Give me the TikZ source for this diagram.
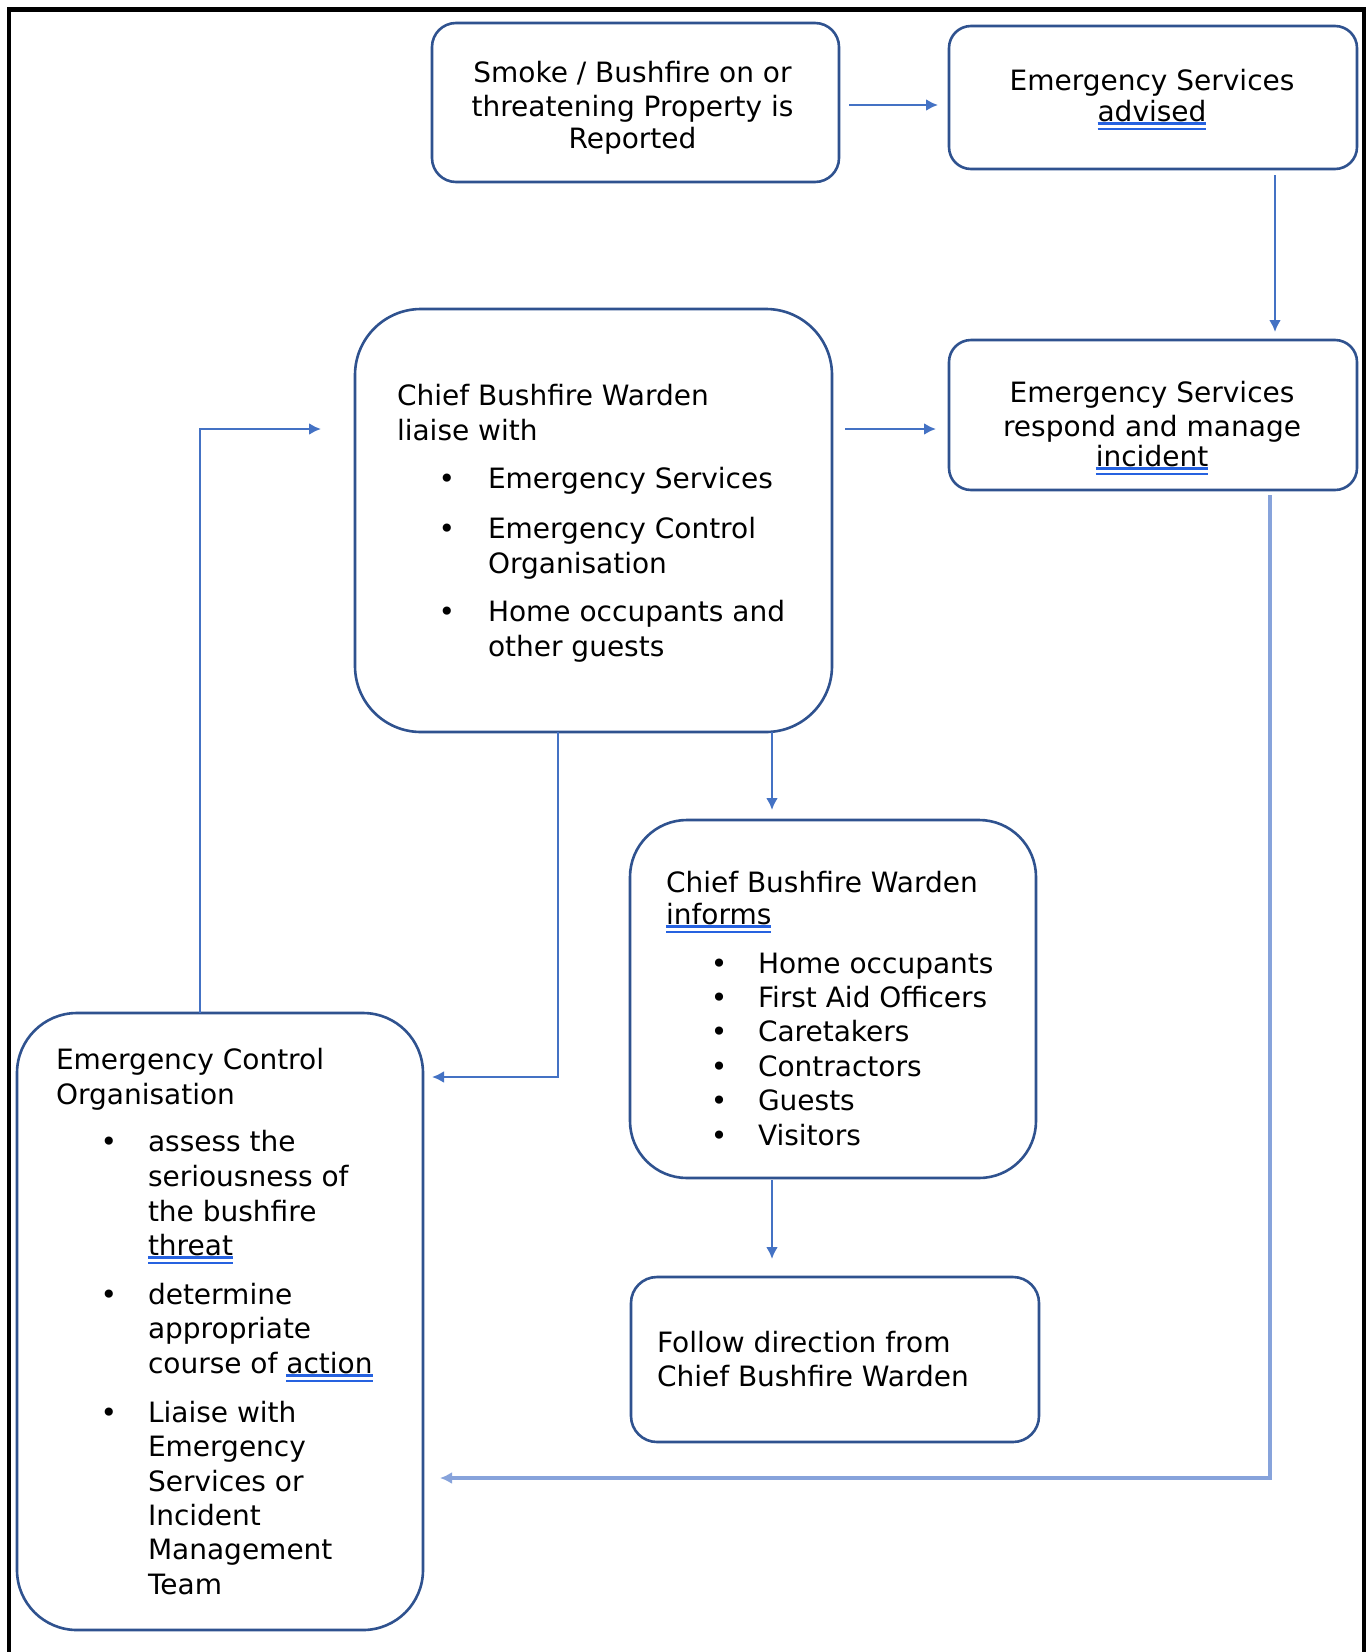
\documentclass[tikz,border=0pt]{standalone}
\usepackage{fontspec}
\setmainfont{DejaVu Sans}
\usetikzlibrary{arrows.meta}
\definecolor{boxblue}{RGB}{47,82,143}
\definecolor{arrblue}{RGB}{68,114,196}
\definecolor{lightblue}{RGB}{135,163,219}
\definecolor{ulblue}{RGB}{38,98,224}
\newsavebox\gulbox
\newcommand\gramul[1]{\sbox\gulbox{#1}\rlap{\color{ulblue}\rule[-3.5pt]{\wd\gulbox}{2.4pt}}\rlap{\color{ulblue}\rule[-9pt]{\wd\gulbox}{2.4pt}}\usebox\gulbox}
\begin{document}
\begin{tikzpicture}[x=1pt,y=-1pt,
  box/.style={draw=boxblue, line width=2.6pt, rectangle, rounded corners=#1, inner sep=0pt, outer sep=0pt},
  box/.default=24pt,
  txt/.style={anchor=base west, inner sep=0pt, outer sep=0pt, font=\fontsize{28}{34}\selectfont},
  ctxt/.style={txt, anchor=base},
  blt/.style={txt, anchor=base},
  arr/.style={draw=arrblue, line width=2.4pt, -{Latex[length=12pt,width=12pt]}},
  larr/.style={draw=lightblue, line width=3.5pt, -{Latex[length=12pt,width=12pt]}}]
\useasboundingbox (0,0) rectangle (1370,1652);
\fill[white] (0,0) rectangle (1370,1652);
% outer frame
\draw[line width=4.5pt, black] (9,1652) -- (9,9.5) -- (1364,9.5) -- (1364,1652);

% boxes
\node[box=24pt, minimum width=407pt, minimum height=159pt] (b1) at (635.5,102.5) {};
\node[box=22pt, minimum width=408pt, minimum height=143pt] (b2) at (1153,97.5) {};
\node[box=22pt, minimum width=408pt, minimum height=150pt] (b3) at (1153,415) {};
\node[box=66pt, minimum width=477pt, minimum height=423pt] (b4) at (593.5,520.5) {};
\node[box=57pt, minimum width=406pt, minimum height=358pt] (b5) at (833,999) {};
\node[box=26pt, minimum width=408pt, minimum height=165pt] (b6) at (835,1359.5) {};
\node[box=60pt, minimum width=406pt, minimum height=617pt] (b7) at (220,1321.5) {};

% box 1 text
\node[ctxt] (t11) at (632.5,82) {Smoke / Bushfire on or};
\node[ctxt] (t12) at (632.5,116) {threatening Property is};
\node[ctxt] (t13) at (632.5,148) {Reported};
% box 2 text
\node[ctxt] (t21) at (1152,90) {Emergency Services};
\node[ctxt] (t22) at (1152,121) {\gramul{advised}};
% box 3 text
\node[ctxt] (t31) at (1152,402) {Emergency Services};
\node[ctxt] (t32) at (1152,436) {respond and manage};
\node[ctxt] (t33) at (1152,466) {\gramul{incident}};
% box 4 text
\node[txt] (t41) at (397,405) {Chief Bushfire Warden};
\node[txt] (t42) at (397,440) {liaise with};
\node[blt] (d41) at (447,488) {•};
\node[txt] (t43) at (488,488) {Emergency Services};
\node[blt] (d42) at (447,538) {•};
\node[txt] (t44) at (488,538) {Emergency Control};
\node[txt] (t45) at (488,573) {Organisation};
\node[blt] (d43) at (447,621) {•};
\node[txt] (t46) at (488,621) {Home occupants and};
\node[txt] (t47) at (488,656) {other guests};
% box 5 text
\node[txt] (t51) at (666,892) {Chief Bushfire Warden};
\node[txt] (t52) at (666,924) {\gramul{informs}};
\node[blt] (d51) at (719,973) {•};
\node[txt] (t53) at (758,973) {Home occupants};
\node[blt] (d52) at (719,1007.4) {•};
\node[txt] (t54) at (758,1007.4) {First Aid Officers};
\node[blt] (d53) at (719,1041.8) {•};
\node[txt] (t55) at (758,1041.8) {Caretakers};
\node[blt] (d54) at (719,1076.2) {•};
\node[txt] (t56) at (758,1076.2) {Contractors};
\node[blt] (d55) at (719,1110.6) {•};
\node[txt] (t57) at (758,1110.6) {Guests};
\node[blt] (d56) at (719,1145) {•};
\node[txt] (t58) at (758,1145) {Visitors};
% box 6 text
\node[txt] (t61) at (657,1352) {Follow direction from};
\node[txt] (t62) at (657,1386) {Chief Bushfire Warden};
% box 7 text
\node[txt] (t71) at (56,1069) {Emergency Control};
\node[txt] (t72) at (56,1104) {Organisation};
\node[blt] (d71) at (109,1151) {•};
\node[txt] (t73) at (148,1151) {assess the};
\node[txt] (t74) at (148,1186) {seriousness of};
\node[txt] (t75) at (148,1221) {the bushfire};
\node[txt] (t76) at (148,1255) {\gramul{threat}};
\node[blt] (d72) at (109,1304) {•};
\node[txt] (t77) at (148,1304) {determine};
\node[txt] (t78) at (148,1338) {appropriate};
\node[txt] (t79) at (148,1373) {course of \gramul{action}};
\node[blt] (d73) at (109,1422) {•};
\node[txt] (t710) at (148,1422) {Liaise with};
\node[txt] (t711) at (148,1456) {Emergency};
\node[txt] (t712) at (148,1491) {Services or};
\node[txt] (t713) at (148,1525) {Incident};
\node[txt] (t714) at (148,1559) {Management};
\node[txt] (t715) at (148,1594) {Team};

% helper coordinates for connector rows / columns
\coordinate (h1) at (0,105);
\coordinate (h2) at (0,429);
\coordinate (h3) at (0,1077);
\coordinate (h4) at (0,1478);
\coordinate (v1) at (1275,0);
\coordinate (v2) at (772,0);
\coordinate (v3) at (558,0);
\coordinate (v4) at (200,0);
\coordinate (v5) at (1270,0);

% connectors
\draw[arr, shorten <=10pt, shorten >=11pt] (b1.east |- h1) -- (b2.west |- h1);
\draw[arr, shorten <=6pt, shorten >=8pt] (v1 |- b2.south) -- (v1 |- b3.north);
\draw[arr, shorten <=13pt, shorten >=13pt] (b4.east |- h2) -- (b3.west |- h2);
\draw[arr, shorten >=10pt] (v2 |- b4.south) -- (v2 |- b5.north);
\draw[arr, shorten >=9pt] (v3 |- b4.south) -- (v3 |- h3) -- (b7.east |- h3);
\draw[arr, shorten >=34pt] (v4 |- b7.north) -- (v4 |- h2) -- (b4.west |- h2);
\draw[arr, shorten <=2pt, shorten >=18pt] (v2 |- b5.south) -- (v2 |- b6.north);
\draw[larr, shorten <=5pt, shorten >=17pt] (v5 |- b3.south) -- (v5 |- h4) -- (b7.east |- h4);
\end{tikzpicture}
\end{document}
